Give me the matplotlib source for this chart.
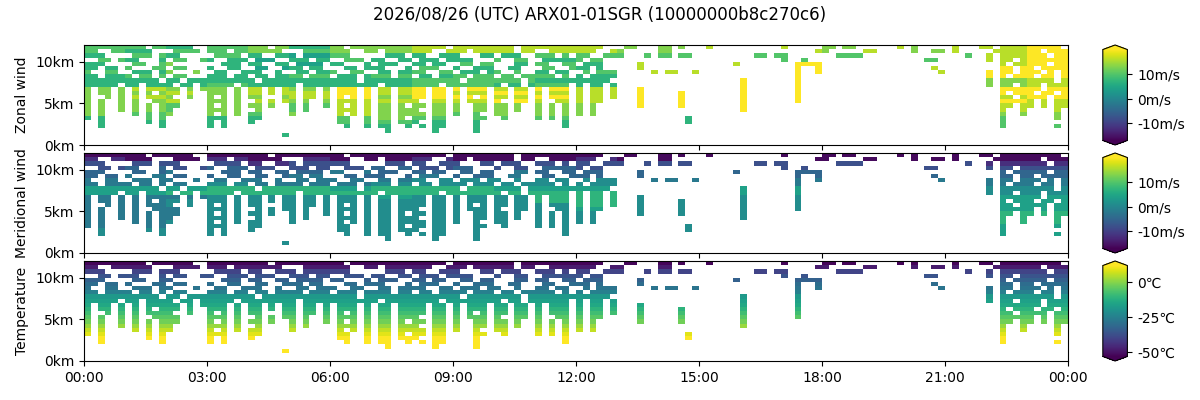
import numpy as np
import matplotlib
matplotlib.use("Agg")
import matplotlib.pyplot as plt

title = "2026/08/26 (UTC) ARX01-01SGR (10000000b8c270c6)"
panel_labels = ["Zonal wind", "Meridional wind", "Temperature"]
hour_ticks = [0, 3, 6, 9, 12, 15, 18, 21, 24]
hour_labels = ["00:00", "03:00", "06:00", "09:00", "12:00", "15:00", "18:00", "21:00", "00:00"]
height_ticks = [0, 5, 10]
height_labels = ["0km", "5km", "10km"]

bin_hours = 1 / 6      # 10 minute bins
bin_km = 0.5

# observed bins ('#'), one group per hour, first row = 11.5-12 km
echo_rows = [
    "######|###.##|####..|######|###.##|######|##.###|######|#####.|######|###.##|######|####..|.##...|##.#..|.#....|......|#.....|##.##.|.....#|.#....|.#...#|#.####|#####.",
    "##..##|####..|.####.|###.##|#####.|..####|###..#|#.####|###..#|##.###|###.##|..####|###..#|#.....|##....|......|......|.....#|#.....|##....|.#..##|.#....|.#####|##.###",
    "###...|.###.#|##....|.####.|##..##|#.####|###...|..###.|##..##|#...##|.###..|###.#.|##..##|#...#.|##.##.|......|..##.#|#.....|..####|......|......|...#..|#.####|###.##",
    "..##.#|##...#|.##..#|#..###|.###..|###.##|..###.|##..##|.###.#|###...|#..##.|.#####|#.##..|......|......|......|......|#..#..|......|......|...##.|......|#.##.#|######",
    "###...|.##..#|#.....|..###.|##..##|.####.|##...#|.###..|##.##.|.##.##|...##.|##..##|.###..|...#..|......|.....#|......|..####|......|......|......|......|..#.##|###.##",
    "##.##.|#...##|.##...|#..##.|.##..#|##.##.|..##.#|##...#|.###..|#..###|..##..|.##..#|##.#..|...#..|......|......|......|..#..#|......|......|....#.|......|..##.#|#.####",
    "#..##.|.###.#|#...#.|.##..#|##..#.|.##.##|#..##.|.##.##|##..##|.###.#|#..#..|##.##.|.#.###|.....#|.##..#|......|......|..#..#|......|......|.....#|......|#.##.#|##.#.#",
    "##.###|#.##.#|.##...|###.##|.##.##|##.###|.###.#|###.##|.##.##|##.###|.##.##|###.#.|#.####|......|......|......|......|..#...|......|......|......|......|#.#.##|#.##.#",
    "######|#####.|##.###|######|#.####|######|####.#|######|######|#.####|####.#|######|#####.|......|......|......|#.....|..#...|......|......|......|......|#.####|####.#",
    "#####.|##.###|#.##.#|####.#|######|#.####|######|#.####|####.#|######|#.##.#|#####.|#.##.#|......|......|......|#.....|..#...|......|......|......|......|#.##.#|##.###",
    "#.##.#|.#.###|##.#.#|###.#.|##.#.#|#.##.#|.###.#|.##.##|##.##.|#.###.|##.##.|#.###.|#.##.#|...#..|......|......|#.....|..#...|......|......|......|......|..####|##.###",
    "#.##.#|.#.#.#|##.#..|###.#.|##.#.#|#.##.#|.###.#|.##.##|##.##.|#.###.|##.##.|#.###.|#.##.#|...#..|...#..|......|#.....|..#...|......|......|......|......|..#.##|#.##.#",
    "#..#.#|.#.###|#..#..|#.#.#.|##...#|#.##.#|.#.#.#|.##.##|##.##.|#.#.#.|##.##.|#.###.|#.##.#|...#..|...#..|......|#.....|..#...|......|......|......|......|..##.#|###.##",
    "#.#..#|.#..##|##....|###.#.|.#.#.#|#.#..#|.###.#|.##.##|#..##.|#.###.|#..##.|#..##.|#.##..|...#..|...#..|......|#.....|..#...|......|......|......|......|..####|#.#.##",
    "#.#..#|.#.#.#|##....|#.#.#.|##.#..|#.#..#|.#.#.#|.##.#.|##.##.|#..##.|##.#..|#.#.#.|#.#...|...#..|...#..|......|#.....|......|......|......|......|......|..##.#|#.#.##",
    "#.#..#|.#.#.#|#.....|###.#.|.#....|#.#...|.###.#|.##.##|#..##.|#..##.|##.#..|#.#.#.|#.#...|......|......|......|#.....|......|......|......|......|......|..#..#|....#.",
    "#.#...|.#.#.#|#.....|#.#.#.|##....|#.....|.#.#.#|.##.##|##.##.|#..#..|##....|#.#.#.|#.#...|......|......|......|......|......|......|......|......|......|..#..#|....#.",
    "#.#...|...#.#|......|###...|##....|......|.##..#|.##.#.|##.##.|...##.|.#....|#.#.#.|......|......|....#.|......|......|......|......|......|......|......|..#...|....#.",
    "..#...|...#.#|......|#.#...|#.....|......|.##..#|.##.##|#..##.|...#..|......|....#.|......|......|....#.|......|......|......|......|......|......|......|..#...|......",
    "..#...|.....#|......|#.#...|......|......|..#..#|.##..#|.#.##.|...#..|......|....#.|......|......|......|......|......|......|......|......|......|......|..#...|....#.",
    "......|......|......|......|......|......|......|..#...|...#..|...#..|......|......|......|......|......|......|......|......|......|......|......|......|......|......",
    "......|......|......|......|.....#|......|......|......|......|......|......|......|......|......|......|......|......|......|......|......|......|......|......|......",
    "......|......|......|......|......|......|......|......|......|......|......|......|......|......|......|......|......|......|......|......|......|......|......|......",
    "......|......|......|......|......|......|......|......|......|......|......|......|......|......|......|......|......|......|......|......|......|......|......|......",
]

# hourly value levels per height bin (first row = 11.5-12 km)
zonal_levels = [-15, -8, -3, 1, 4, 7, 10, 13, 16, 21]   # m/s
zonal_rows = [
    "665675778888877888787889",
    "656676778888877788787889",
    "565654655556666666666689",
    "656545655565666666666689",
    "567554555656588889888889",
    "566545556556588889888899",
    "657555656565688889888899",
    "566556565666588889888899",
    "555555556665599999999978",
    "555655556656599999999978",
    "787787989989899999999999",
    "778788989898899999999999",
    "787778979989899999999989",
    "778787888898899999999998",
    "776776877777799999999988",
    "776776877777799999999988",
    "767767877677799999999977",
    "566556676666655555555567",
    "555555665555555555555566",
    "555555555555555555555566",
    "555555555555555555555555",
    "555555555555555555555555",
    "555555555555555555555555",
    "555555555555555555555555",
]

merid_levels = [-16, -12, -8, -5, -2, 1, 4, 7, 11, 17]   # m/s
merid_rows = [
    "000000000000000000000000",
    "100101001000100000000000",
    "222212222222222222222211",
    "232322232323222222222222",
    "334333433343333333333333",
    "343334334343333333333333",
    "444444445555544444444444",
    "444544455555544444444444",
    "666777677766666666666655",
    "667777777777766666666655",
    "444555565557755555555566",
    "445555555557755555555566",
    "445555555555755555555566",
    "444555555555655555555566",
    "444555555555555555555577",
    "444555555555555555555577",
    "445555555555555555555577",
    "445555555555555555555566",
    "555555555555555555555566",
    "555555555555555555555566",
    "555555555555555555555566",
    "555555555555555555555566",
    "555555555555555555555566",
    "555555555555555555555566",
]

# temperature per height bin, degC (first = 11.5-12 km)
temp_profile = [-52, -48, -40, -36, -33, -30, -28, -25, -18, -16, -14, -11,
                -8, -5, -2, 2, 6, 9, 12, 14, 16, 16, 16, 16]

ranges = [(-17, 20), (-17, 20), (-53, 12)]
cbar_ticks = [[-10, 0, 10], [-10, 0, 10], [-50, -25, 0]]
cbar_labels = [["-10m/s", "0m/s", "10m/s"], ["-10m/s", "0m/s", "10m/s"],
               ["-50\u2103", "-25\u2103", "0\u2103"]]

# --- build grids ---
mask = np.array([[c == "#" for c in r.replace("|", "")] for r in echo_rows])[::-1]
n_alt, n_t = mask.shape
per_hour = n_t // 24

zon = np.array([[zonal_levels[int(c)] for c in r] for r in zonal_rows], float)[::-1]
mer = np.array([[merid_levels[int(c)] for c in r] for r in merid_rows], float)[::-1]
zon = np.repeat(zon, per_hour, axis=1)
mer = np.repeat(mer, per_hour, axis=1)
tmp = np.repeat(np.array(temp_profile, float)[::-1, None], n_t, axis=1)

t_edges = np.arange(n_t + 1) * bin_hours
z_edges = np.arange(n_alt + 1) * bin_km

fields = [np.ma.masked_where(~mask, f) for f in (zon, mer, tmp)]

fig = plt.figure(figsize=(12, 4), dpi=100)
fig.text(0.5, 0.962, title, ha="center", va="center", fontsize=12)

bottoms = [0.6375, 0.3675, 0.0975]
for i, data in enumerate(fields):
    ax = fig.add_axes([0.07, bottoms[i], 0.82, 0.25])
    vmin, vmax = ranges[i]
    mesh = ax.pcolormesh(t_edges, z_edges, data, cmap="viridis",
                         vmin=vmin, vmax=vmax, shading="flat")
    ax.set_xlim(0, 24)
    ax.set_ylim(0, 12)
    ax.set_yticks(height_ticks)
    ax.set_yticklabels(height_labels)
    ax.set_xticks(hour_ticks)
    if i == 2:
        ax.set_xticklabels(hour_labels)
    else:
        ax.set_xticklabels([])
    ax.set_ylabel(panel_labels[i])

    cax = fig.add_axes([0.919, bottoms[i], 0.0205, 0.25])
    cb = fig.colorbar(mesh, cax=cax, extend="both")
    cb.set_ticks(cbar_ticks[i])
    cb.set_ticklabels(cbar_labels[i])

fig.savefig("out.png", dpi=100)
